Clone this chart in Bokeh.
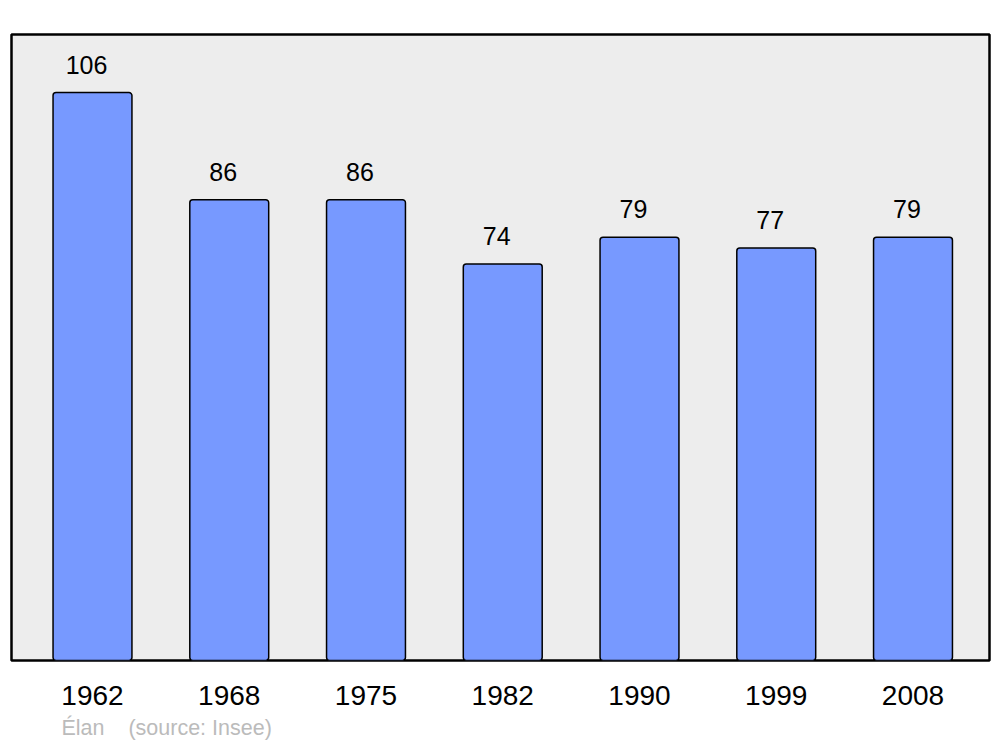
from bokeh.plotting import figure
from bokeh.models import ColumnDataSource, FixedTicker, Range1d, Title
from bokeh.embed import file_html
from bokeh.resources import INLINE
from bokeh.core.properties import value

years = ["1962", "1968", "1975", "1982", "1990", "1999", "2008"]
population = [106, 86, 86, 74, 79, 77, 79]
source_note = "Élan\u00a0\u00a0\u00a0\u00a0(source: Insee)"

idx = list(range(len(years)))
src = ColumnDataSource(dict(x=idx, top=population, label=[str(v) for v in population]))

p = figure(width=1000, height=747, output_backend="svg", toolbar_location=None,
           x_range=Range1d(-0.5923, 6.5594), y_range=Range1d(0, 116.83),
           y_axis_location=None, min_border_left=11, min_border_right=11,
           min_border_top=34, min_border_bottom=87)
p.background_fill_color = "#ededed"
p.border_fill_color = "white"
p.outline_line_color = "black"
p.outline_line_width = 2.5
p.xgrid.visible = False
p.ygrid.visible = False

p.vbar(x="x", top="top", bottom=0, width=0.577, source=src,
       fill_color="#7799ff", line_color="black", line_width=1.5, border_radius=3)

p.text(x="x", y="top", text="label", source=src, text_align="center",
       text_baseline="middle", y_offset=-28, x_offset=-6,
       text_font=value("Liberation Sans"), text_font_size="25px", text_color="black")

ax = p.xaxis[0]
ax.ticker = FixedTicker(ticks=idx)
ax.major_label_overrides = {i: y for i, y in zip(idx, years)}
ax.axis_line_color = None
ax.major_tick_line_color = None
ax.minor_tick_line_color = None
ax.major_tick_out = 0
ax.major_tick_in = 0
ax.major_label_standoff = 25
ax.major_label_text_font = "Liberation Sans"
ax.major_label_text_font_size = "28px"
ax.major_label_text_color = "black"

note = Title(text=source_note, align="left", offset=50, standoff=13,
             text_font="Liberation Sans", text_font_size="21.5px",
             text_font_style="normal", text_color="#bbbbbb")
p.add_layout(note, "below")

open("out.html", "w").write(file_html(p, INLINE))
